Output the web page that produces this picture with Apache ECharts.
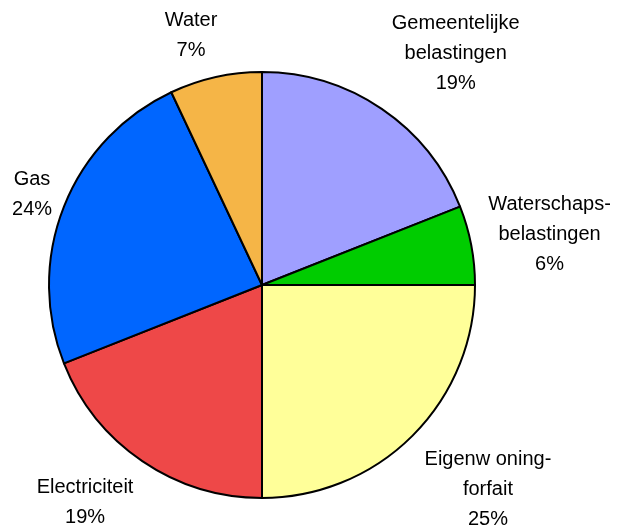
<!DOCTYPE html>
<html>
<head>
<meta charset="utf-8">
<title>Woonlasten</title>
<script src="https://cdn.jsdelivr.net/npm/echarts@6/dist/echarts.min.js"></script>
<style>
  html, body { margin: 0; padding: 0; background: #ffffff; }
  #chart { width: 619px; height: 529px; }
</style>
</head>
<body>
<div id="chart"></div>
<script>
// Share of each housing cost item, clockwise from the top
const categories = [
  'Gemeentelijke\nbelastingen',
  'Waterschaps-\nbelastingen',
  'Eigenw oning-\nforfait',
  'Electriciteit',
  'Gas',
  'Water'
];
const shares = [19, 6, 25, 19, 24, 7];
const sliceColors = ['#9F9FFF', '#00CC00', '#FFFF99', '#EE4848', '#0066FF', '#F5B547'];

// Pie geometry (pixels)
const pieCenter = [262, 285];
const pieRadius = 213;

// Label placement: turn (degrees) from the slice's mid-angle and distance from the centre
const labelTurn = [5.7, 0.8, -2.8, 5.0, -0.2, -3.3];
const labelDistance = [302, 292, 305, 280, 247, 259];

const total = shares.reduce((a, b) => a + b, 0);
const midAngles = [];
let acc = 0;
shares.forEach(v => {
  midAngles.push((acc + v / 2) / total * 360);
  acc += v;
});

const chart = echarts.init(document.getElementById('chart'), null, { renderer: 'canvas' });

chart.setOption({
  animation: false,
  backgroundColor: '#ffffff',
  series: [{
    type: 'pie',
    center: pieCenter,
    radius: pieRadius,
    startAngle: 90,
    clockwise: true,
    avoidLabelOverlap: false,
    silent: true,
    data: categories.map((name, i) => ({
      name: name,
      value: shares[i],
      itemStyle: { color: sliceColors[i] }
    })),
    itemStyle: { borderColor: '#000000', borderWidth: 2 },
    label: {
      show: true,
      position: 'outside',
      formatter: '{b}\n{c}%',
      fontFamily: '"Liberation Sans", Arial, sans-serif',
      fontSize: 20,
      lineHeight: 30,
      color: '#000000',
      align: 'center'
    },
    labelLine: { show: false },
    labelLayout: function (params) {
      const i = params.dataIndex;
      const a = (midAngles[i] + labelTurn[i]) * Math.PI / 180;
      return {
        x: pieCenter[0] + labelDistance[i] * Math.sin(a),
        y: pieCenter[1] - labelDistance[i] * Math.cos(a),
        align: 'center',
        verticalAlign: 'middle'
      };
    }
  }]
});
</script>
</body>
</html>
